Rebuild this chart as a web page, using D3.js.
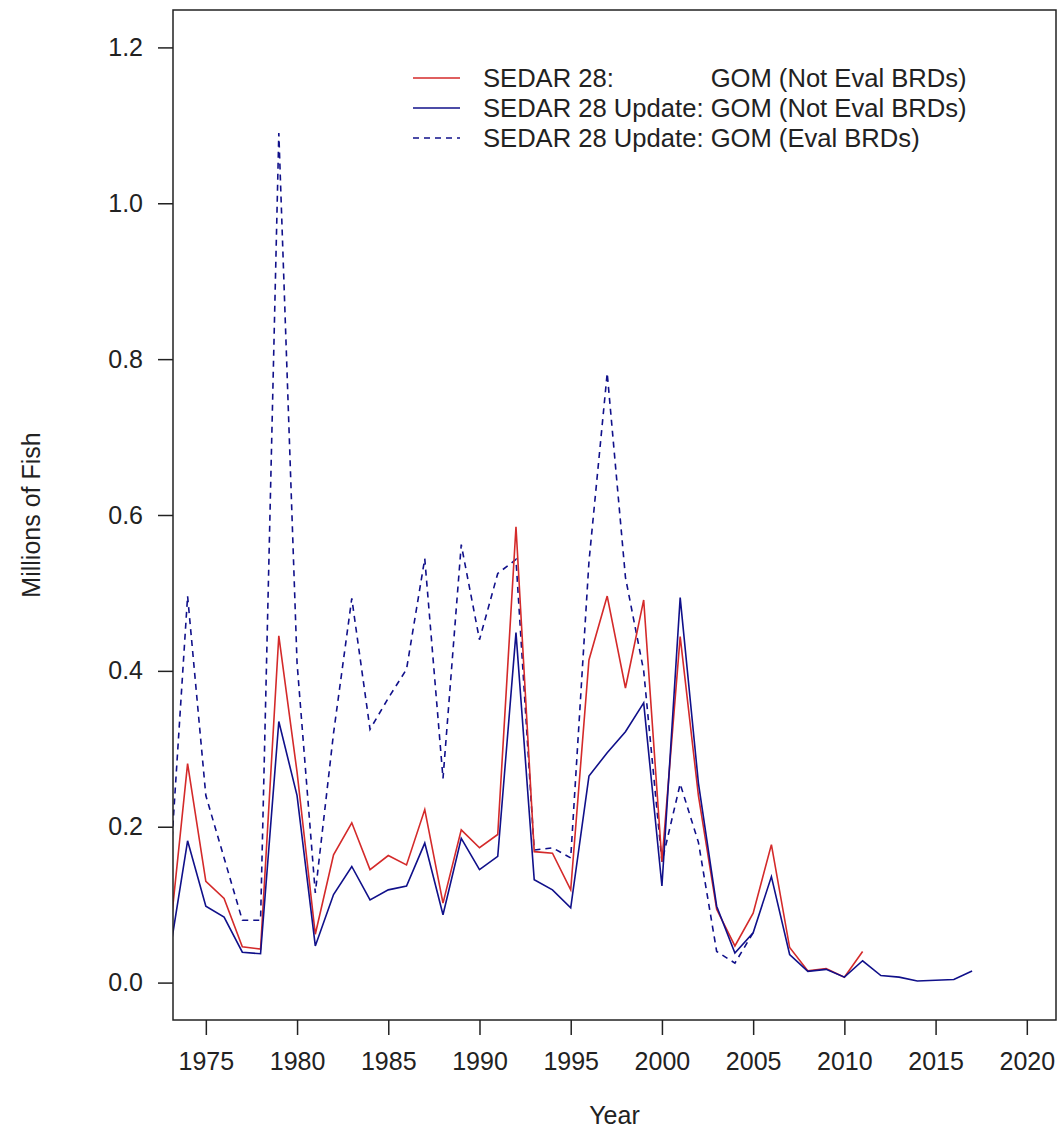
<!DOCTYPE html>
<html>
<head>
<meta charset="utf-8">
<script src="https://cdn.jsdelivr.net/npm/d3@7"></script>
<style>
  body { margin: 0; background: #fff; }
  text { font-family: "Liberation Sans", Arial, sans-serif; fill: #222; }
</style>
</head>
<body>
<script>

// years of the series
const years = [1973, 1974, 1975, 1976, 1977, 1978, 1979, 1980, 1981, 1982,
  1983, 1984, 1985, 1986, 1987, 1988, 1989, 1990, 1991, 1992,
  1993, 1994, 1995, 1996, 1997, 1998, 1999, 2000, 2001, 2002,
  2003, 2004, 2005, 2006, 2007, 2008, 2009, 2010, 2011, 2012,
  2013, 2014, 2015, 2016, 2017]

// SEDAR 28: GOM (Not Eval BRDs), 1973-2011
const sedar28 = [0.055, 0.281, 0.130, 0.108, 0.046, 0.043, 0.445, 0.270, 0.062, 0.164,
  0.205, 0.145, 0.163, 0.151, 0.222, 0.102, 0.196, 0.173, 0.190, 0.585,
  0.168, 0.166, 0.119, 0.414, 0.496, 0.378, 0.491, 0.155, 0.444, 0.240,
  0.094, 0.047, 0.089, 0.177, 0.045, 0.015, 0.018, 0.007, 0.040]

// SEDAR 28 Update: GOM (Not Eval BRDs), 1973-2017
const updateNotEval = [0.035, 0.182, 0.098, 0.084, 0.039, 0.037, 0.335, 0.240, 0.047, 0.113,
  0.149, 0.106, 0.119, 0.124, 0.179, 0.087, 0.185, 0.145, 0.162, 0.449,
  0.132, 0.119, 0.096, 0.265, 0.295, 0.322, 0.359, 0.124, 0.494, 0.256,
  0.098, 0.038, 0.064, 0.136, 0.036, 0.0145, 0.017, 0.007, 0.028, 0.009,
  0.007, 0.002, 0.003, 0.004, 0.015]

// SEDAR 28 Update: GOM (Eval BRDs), 1973-2005
const updateEval = [0.130, 0.496, 0.240, 0.160, 0.080, 0.080, 1.090, 0.410, 0.115, 0.320,
  0.493, 0.325, 0.365, 0.402, 0.544, 0.262, 0.562, 0.440, 0.525, 0.543,
  0.170, 0.173, 0.160, 0.540, 0.782, 0.520, 0.400, 0.155, 0.255, 0.180,
  0.040, 0.025, 0.064]

const xTicks = [1975, 1980, 1985, 1990, 1995, 2000, 2005, 2010, 2015, 2020]
const yTicks = [0, 0.2, 0.4, 0.6, 0.8, 1.0, 1.2]

const legendLabels = [
  ['SEDAR 28:', 'GOM (Not Eval BRDs)'],
  ['SEDAR 28 Update:', 'GOM (Not Eval BRDs)'],
  ['SEDAR 28 Update:', 'GOM (Eval BRDs)']
]

const width = 1058, height = 1129
const plot = {left: 173, right: 1056, top: 10, bottom: 1020}
const red = '#d42a2a', navy = '#10108a'
const fontSize = 25

const svg = d3.select('body').append('svg')
  .attr('width', width)
  .attr('height', height)

const xScale = d3.scaleLinear()
  .domain([1973.2, 2021.6])
  .range([plot.left, plot.right])

const yScale = d3.scaleLinear()
  .domain([-0.048, 1.248])
  .range([plot.bottom, plot.top])

svg.append('clipPath').attr('id', 'clip')
  .append('rect')
  .attr('x', plot.left).attr('y', plot.top)
  .attr('width', plot.right - plot.left)
  .attr('height', plot.bottom - plot.top)

// axes
const xAxis = svg.append('g')
  .attr('transform', 'translate(0,' + plot.bottom + ')')
  .call(d3.axisBottom(xScale).tickValues(xTicks).tickSize(15).tickPadding(17).tickFormat(d3.format('d')))
const yAxis = svg.append('g')
  .attr('transform', 'translate(' + plot.left + ',0)')
  .call(d3.axisLeft(yScale).tickValues(yTicks).tickSize(15).tickPadding(15).tickFormat(d3.format('.1f')))

;[xAxis, yAxis].forEach(ax => {
  ax.select('.domain').remove()
  ax.selectAll('.tick line').attr('stroke', '#222').attr('stroke-width', 1.5)
  ax.selectAll('.tick text')
    .attr('font-size', fontSize + 'px')
    .attr('font-family', '"Liberation Sans", Arial, sans-serif')
    .attr('fill', '#222')
})

// lines
const line = (vals) => d3.line()
  .x((d, i) => xScale(years[i]))
  .y(d => yScale(d))(vals)

const g = svg.append('g').attr('clip-path', 'url(#clip)')
g.append('path')
  .attr('d', line(updateEval))
  .attr('fill', 'none')
  .attr('stroke', navy)
  .attr('stroke-width', 1.6)
  .attr('stroke-dasharray', '6,5')
g.append('path')
  .attr('d', line(sedar28))
  .attr('fill', 'none')
  .attr('stroke', red)
  .attr('stroke-width', 1.6)
g.append('path')
  .attr('d', line(updateNotEval))
  .attr('fill', 'none')
  .attr('stroke', navy)
  .attr('stroke-width', 1.6)

// frame
svg.append('rect')
  .attr('x', plot.left).attr('y', plot.top)
  .attr('width', plot.right - plot.left)
  .attr('height', plot.bottom - plot.top)
  .attr('fill', 'none')
  .attr('stroke', '#222')
  .attr('stroke-width', 1.5)

// axis titles
svg.append('text')
  .attr('x', (plot.left + plot.right) / 2)
  .attr('y', 1124)
  .attr('text-anchor', 'middle')
  .attr('font-size', fontSize + 'px')
  .text('Year')
svg.append('text')
  .attr('transform', 'translate(40,' + (plot.top + plot.bottom) / 2 + ') rotate(-90)')
  .attr('text-anchor', 'middle')
  .attr('font-size', fontSize + 'px')
  .text('Millions of Fish')

// legend
const legendStyles = [
  {color: red, dash: null},
  {color: navy, dash: null},
  {color: navy, dash: '6,5'}
]
const legendY = [78, 108, 138]
const textX = 483
const legendFont = 25.6

// second column starts where "SEDAR 28 Update: " ends
const probe = svg.append('text').attr('font-size', legendFont + 'px').attr('x', -1000)
  .text(legendLabels[1][0] + '\u00a0')
const col2 = textX + probe.node().getComputedTextLength()
probe.remove()

legendLabels.forEach((lab, i) => {
  const yy = legendY[i]
  svg.append('line')
    .attr('x1', 413).attr('x2', 460)
    .attr('y1', yy).attr('y2', yy)
    .attr('stroke', legendStyles[i].color)
    .attr('stroke-width', 1.6)
    .attr('stroke-dasharray', legendStyles[i].dash)
  svg.append('text')
    .attr('x', textX).attr('y', yy + 9)
    .attr('font-size', legendFont + 'px')
    .text(lab[0])
  svg.append('text')
    .attr('x', col2).attr('y', yy + 9)
    .attr('font-size', legendFont + 'px')
    .text(lab[1])
})

</script>
</body>
</html>
